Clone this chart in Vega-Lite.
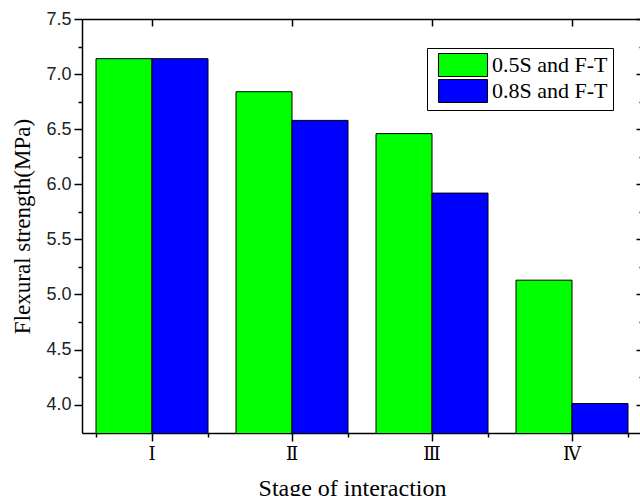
{
  "$schema": "https://vega.github.io/schema/vega-lite/v6.json",
  "width": 560,
  "height": 414,
  "autosize": "none",
  "padding": {"left": 82, "top": 19, "right": 0, "bottom": 63},
  "background": "white",
  "config": {
    "view": {"stroke": null},
    "legend": {
      "orient": "top-right",
      "offset": 29,
      "strokeColor": "black",
      "strokeWidth": 1,
      "fillColor": "white",
      "padding": 5,
      "cornerRadius": 0,
      "symbolType": "M-2.13,-1L2.13,-1L2.13,1L-2.13,1Z",
      "symbolSize": 529,
      "symbolOffset": 19,
      "symbolStrokeColor": "black",
      "symbolStrokeWidth": 1,
      "labelFont": "Liberation Serif",
      "labelFontSize": 22,
      "labelColor": "black",
      "labelOffset": 17,
      "rowPadding": -3,
      "labelLimit": 300
    }
  },
  "data": {
    "values": [
      {"stage": "Ⅰ", "series": "0.5S and F-T", "strength": 7.14},
      {"stage": "Ⅰ", "series": "0.8S and F-T", "strength": 7.14},
      {"stage": "Ⅱ", "series": "0.5S and F-T", "strength": 6.84},
      {"stage": "Ⅱ", "series": "0.8S and F-T", "strength": 6.58},
      {"stage": "Ⅲ", "series": "0.5S and F-T", "strength": 6.46},
      {"stage": "Ⅲ", "series": "0.8S and F-T", "strength": 5.92},
      {"stage": "Ⅳ", "series": "0.5S and F-T", "strength": 5.13},
      {"stage": "Ⅳ", "series": "0.8S and F-T", "strength": 4.01}
    ]
  },
  "layer": [
    {
      "transform": [{"filter": "datum.series === '0.5S and F-T'"}],
      "mark": {"type": "bar", "stroke": "black", "strokeWidth": 1, "clip": true},
      "encoding": {
        "x": {
          "field": "stage",
          "type": "nominal",
          "sort": ["Ⅰ", "Ⅱ", "Ⅲ", "Ⅳ"],
          "scale": {"paddingInner": 0.2, "paddingOuter": 0.1},
          "axis": {
            "orient": "bottom",
            "title": "Stage of interaction",
            "titleFont": "Liberation Serif",
            "titleFontSize": 24,
            "titleFontWeight": "normal",
            "titleColor": "black",
            "titleX": 270,
            "titleY": 62,
            "titleBaseline": "alphabetic",
            "labelFont": "DejaVu Serif",
            "labelFontSize": 18,
            "labelAngle": 0,
            "labelColor": "black",
            "labelPadding": 4,
            "tickSize": 8,
            "tickColor": "black",
            "tickWidth": 1.5,
            "domainColor": "black",
            "domainWidth": 1.5,
            "grid": false
          }
        },
        "xOffset": {
          "field": "series",
          "type": "nominal",
          "scale": {"domain": ["0.5S and F-T", "0.8S and F-T"], "paddingInner": 0, "paddingOuter": 0}
        },
        "y": {
          "field": "strength",
          "type": "quantitative",
          "scale": {"domain": [3.743, 7.5], "zero": false, "nice": false},
          "axis": {
            "orient": "left",
            "values": [4, 4.25, 4.5, 4.75, 5, 5.25, 5.5, 5.75, 6, 6.25, 6.5, 6.75, 7, 7.25, 7.5],
            "labelExpr": "datum.value % 0.5 === 0 ? format(datum.value, '.1f') : ''",
            "labelOverlap": false,
            "tickSize": {"condition": {"test": "datum.value % 0.5 === 0", "value": 8}, "value": 4},
            "labelFont": "Liberation Sans",
            "labelFontSize": 18,
            "labelColor": "#222222",
            "labelPadding": 3,
            "tickColor": "black",
            "tickWidth": 1.5,
            "domainColor": "black",
            "domainWidth": 1.5,
            "grid": false,
            "title": "Flexural strength(MPa)",
            "titleFont": "Liberation Serif",
            "titleFontSize": 23,
            "titleFontWeight": "normal",
            "titleColor": "black",
            "titlePadding": 11
          }
        },
        "fill": {
          "field": "series",
          "type": "nominal",
          "scale": {"domain": ["0.5S and F-T", "0.8S and F-T"], "range": ["#00ff00", "#0000ff"]},
          "legend": {"title": null}
        }
      }
    },
    {
      "transform": [{"filter": "datum.series === '0.8S and F-T'"}],
      "mark": {"type": "bar", "stroke": "black", "strokeWidth": 1, "clip": true},
      "encoding": {
        "x": {
          "field": "stage",
          "type": "nominal",
          "sort": ["Ⅰ", "Ⅱ", "Ⅲ", "Ⅳ"],
          "axis": {
            "orient": "top",
            "title": null,
            "labels": false,
            "tickSize": -7,
            "tickColor": "black",
            "tickWidth": 1.5,
            "domainColor": "black",
            "domainWidth": 1.5,
            "grid": false
          }
        },
        "xOffset": {
          "field": "series",
          "type": "nominal",
          "scale": {"domain": ["0.5S and F-T", "0.8S and F-T"]}
        },
        "y": {
          "field": "strength",
          "type": "quantitative",
          "axis": {
            "orient": "right",
            "values": [4, 4.25, 4.5, 4.75, 5, 5.25, 5.5, 5.75, 6, 6.25, 6.5, 6.75, 7, 7.25, 7.5],
            "labels": false,
            "title": null,
            "tickSize": {"condition": {"test": "datum.value % 0.5 === 0", "value": -6}, "value": -3},
            "tickColor": "black",
            "tickWidth": 1.5,
            "domainColor": "black",
            "domainWidth": 1.5,
            "grid": false
          }
        },
        "fill": {
          "field": "series",
          "type": "nominal",
          "scale": {"domain": ["0.5S and F-T", "0.8S and F-T"], "range": ["#00ff00", "#0000ff"]},
          "legend": {"title": null}
        }
      }
    },
    {
      "mark": {"type": "bar", "opacity": 0, "clip": true},
      "encoding": {
        "x": {
          "field": "stage",
          "type": "nominal",
          "sort": ["Ⅰ", "Ⅱ", "Ⅲ", "Ⅳ"],
          "axis": {
            "orient": "bottom",
            "title": null,
            "labels": false,
            "domain": false,
            "tickBand": "extent",
            "tickSize": 4,
            "tickColor": "black",
            "tickWidth": 1.5,
            "grid": false
          }
        },
        "xOffset": {
          "field": "series",
          "type": "nominal",
          "scale": {"domain": ["0.5S and F-T", "0.8S and F-T"]}
        },
        "y": {
          "field": "strength",
          "type": "quantitative",
          "axis": null
        }
      }
    }
  ],
  "resolve": {"axis": {"x": "independent", "y": "independent"}}
}
